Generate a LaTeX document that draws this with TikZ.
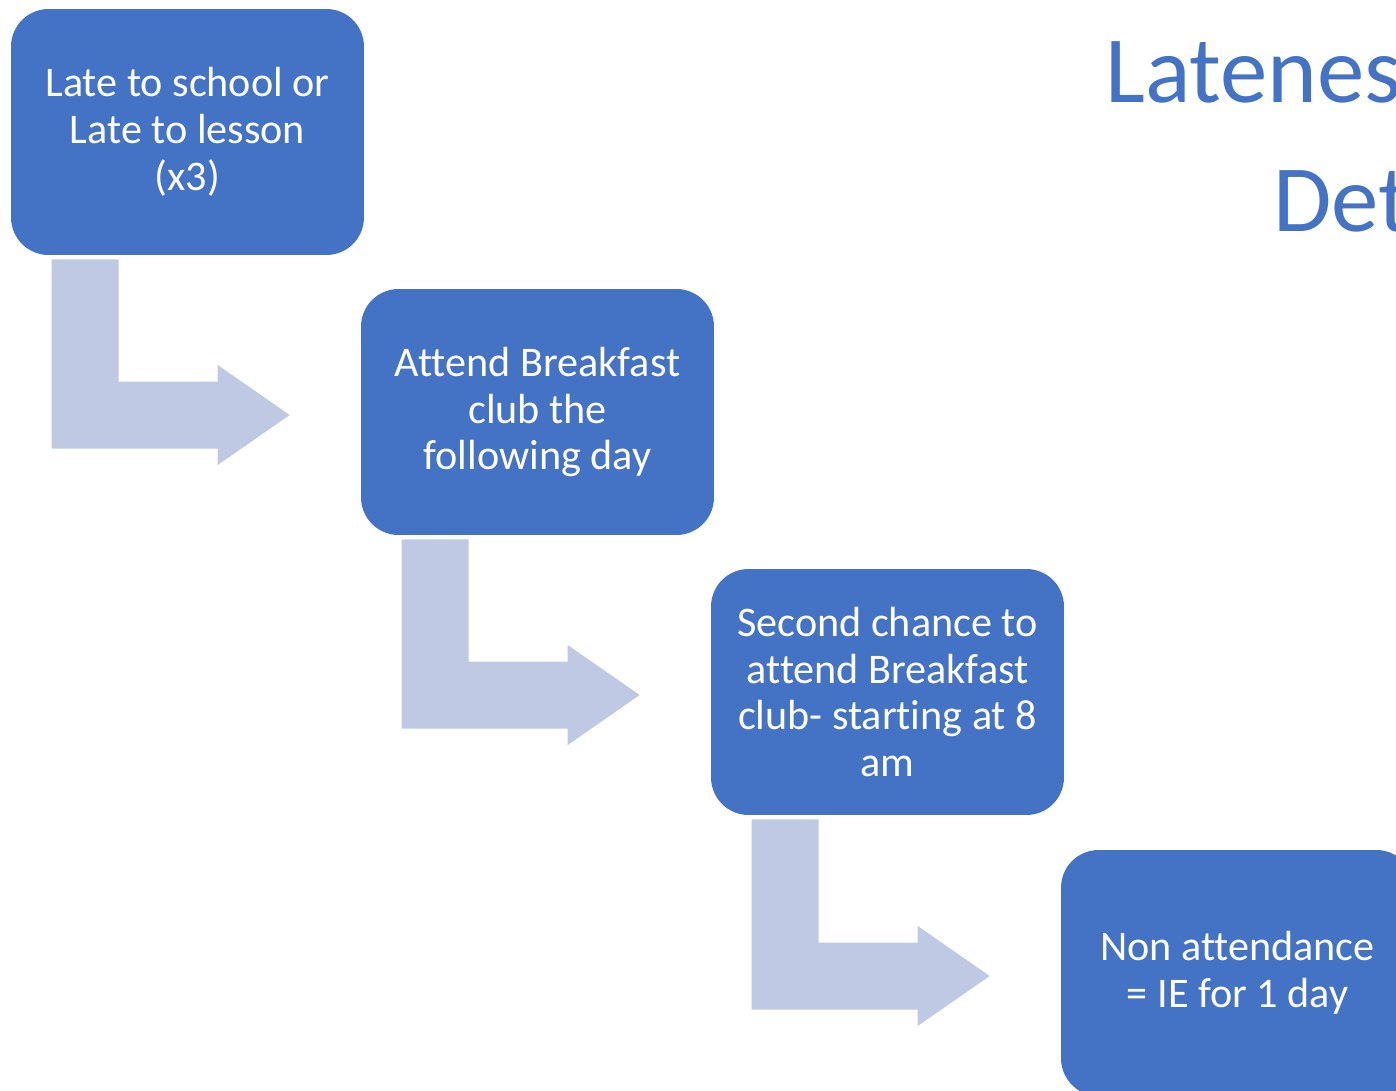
\documentclass[tikz,border=0pt]{standalone}
\usepackage{fontspec}
\setmainfont{Carlito}[Ligatures={NoCommon}]
\usetikzlibrary{calc}
\definecolor{stepblue}{HTML}{4472C4}
\definecolor{flowgrey}{RGB}{191,201,227}

\begin{document}
\begin{tikzpicture}[
	x=0.02cm, y=-0.02cm,
	stepbox/.style={rectangle, fill=stepblue, text=white, minimum width=7.06cm, minimum height=4.92cm, rounded corners=0.75cm, align=center, inner sep=0, font=\fontsize{24}{26.6}\selectfont},
	title/.style={anchor=base west, text=stepblue, inner sep=0, font=\fontsize{54}{64}\selectfont},
	bent/.style={fill=flowgrey}
	]

\clip (0,0) rectangle (1396,1091);

% Title
\node [title] (title1) at (1105,103) {Latenes};
\node [title] (title2) at (1273,232) {Det};

% Steps
\node [stepbox] (late) at (187.5,132) {Late to school or\\Late to lesson\\(x3)};
\node [stepbox] (breakfast) at (537.5,412) {Attend Breakfast\\club the\\following day};
\node [stepbox] (second) at (887.5,692) {Second chance to\\attend Breakfast\\club- starting at 8\\am};
\node [stepbox] (nonattend) at (1237.5,973) {Non attendance\\= IE for 1 day};

% Bent arrows
\foreach \a/\b in {late/breakfast, breakfast/second, second/nonattend} {
	\coordinate (sl) at ($(\a.south west)+(41,4)$);
	\coordinate (sr) at ($(\a.south west)+(108,4)$);
	\coordinate (bt) at ($(\b.west)+(0,-30.5)$);
	\coordinate (bb) at ($(\b.west)+(0,36.5)$);
	\fill[bent] (sl) -- (sr) -- (sr |- bt)
		-- ($(\b.west)+(-143,-30.5)$) -- ++(0,-16.5)
		-- ($(\b.west)+(-71,3)$)
		-- ($(\b.west)+(-143,53)$) -- ++(0,-16.5)
		-- (sl |- bb) -- cycle;
}

\end{tikzpicture}
\end{document}
